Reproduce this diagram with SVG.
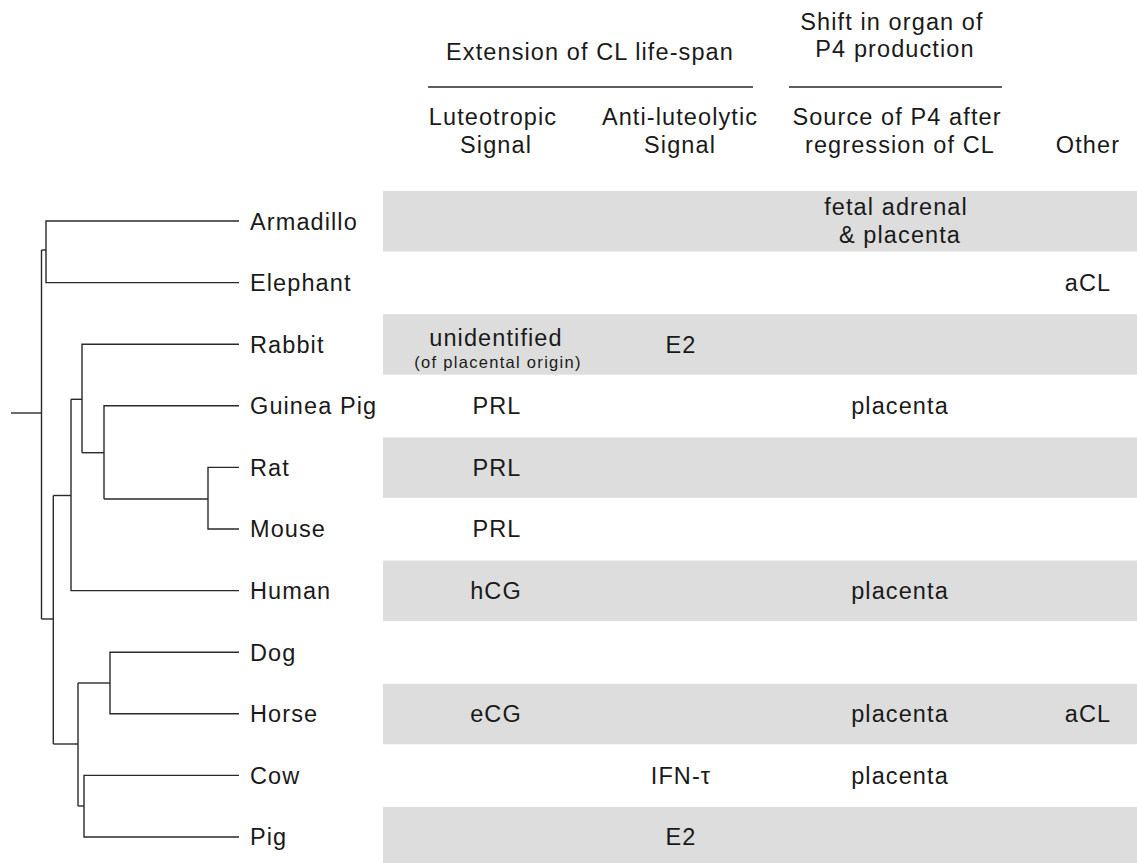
<svg xmlns="http://www.w3.org/2000/svg" width="1137" height="863" viewBox="0 0 1137 863">
  <style>
    text { font-family: "Liberation Sans", Arial, Helvetica, sans-serif; font-size: 23.5px; fill: #1a1a1a; letter-spacing: 1.1px; }
    .c { text-anchor: middle; }
    .small { font-size: 16.5px; letter-spacing: 1.3px; }
    .band { fill: #dddddd; }
    .tree path { fill: none; stroke: #2a2a2a; stroke-width: 1.4; }
    .rule { stroke: #2a2a2a; stroke-width: 1.6; }
  </style>
  <rect x="0" y="0" width="1137" height="863" fill="#ffffff"/>

  <g id="header">
    <text class="c" x="590" y="60">Extension of CL life-span</text>
    <line class="rule" x1="428" y1="87" x2="753" y2="87"/>
    <text class="c" x="892" y="30">Shift in organ of</text>
    <text class="c" x="895" y="57">P4 production</text>
    <line class="rule" x1="789" y1="87" x2="1002" y2="87"/>
    <text class="c" x="493" y="125">Luteotropic</text>
    <text class="c" x="496" y="153">Signal</text>
    <text class="c" x="680" y="125">Anti-luteolytic</text>
    <text class="c" x="680" y="153">Signal</text>
    <text class="c" x="897" y="125">Source of P4 after</text>
    <text class="c" x="900" y="153">regression of CL</text>
    <text class="c" x="1088" y="153">Other</text>
  </g>

  <g id="row-armadillo">
    <rect class="band" x="383" y="191" width="754" height="60.5"/>
    <text x="250" y="229.5">Armadillo</text>
    <text class="c" x="896" y="215">fetal adrenal</text>
    <text class="c" x="900" y="243">&amp; placenta</text>
  </g>
  <g id="row-elephant">
    <text x="250" y="291">Elephant</text>
    <text class="c" x="1088" y="291">aCL</text>
  </g>
  <g id="row-rabbit">
    <rect class="band" x="383" y="314.2" width="754" height="60.5"/>
    <text x="250" y="352.6">Rabbit</text>
    <text class="c" x="496" y="346">unidentified</text>
    <text class="c small" x="498" y="367.5">(of placental origin)</text>
    <text class="c" x="681" y="352.6">E2</text>
  </g>
  <g id="row-guinea-pig">
    <text x="250" y="414.2">Guinea Pig</text>
    <text class="c" x="497" y="414.2">PRL</text>
    <text class="c" x="900" y="414.2">placenta</text>
  </g>
  <g id="row-rat">
    <rect class="band" x="383" y="437.4" width="754" height="60.5"/>
    <text x="250" y="475.8">Rat</text>
    <text class="c" x="497" y="475.8">PRL</text>
  </g>
  <g id="row-mouse">
    <text x="250" y="537.4">Mouse</text>
    <text class="c" x="497" y="537.4">PRL</text>
  </g>
  <g id="row-human">
    <rect class="band" x="383" y="560.6" width="754" height="60.5"/>
    <text x="250" y="599">Human</text>
    <text class="c" x="496" y="599">hCG</text>
    <text class="c" x="900" y="599">placenta</text>
  </g>
  <g id="row-dog">
    <text x="250" y="660.6">Dog</text>
  </g>
  <g id="row-horse">
    <rect class="band" x="383" y="683.8" width="754" height="60.5"/>
    <text x="250" y="722.2">Horse</text>
    <text class="c" x="496" y="722.2">eCG</text>
    <text class="c" x="900" y="722.2">placenta</text>
    <text class="c" x="1088" y="722.2">aCL</text>
  </g>
  <g id="row-cow">
    <text x="250" y="783.8">Cow</text>
    <text class="c" x="681" y="783.8">IFN-τ</text>
    <text class="c" x="900" y="783.8">placenta</text>
  </g>
  <g id="row-pig">
    <rect class="band" x="383" y="807" width="754" height="60.5"/>
    <text x="250" y="845.4">Pig</text>
    <text class="c" x="681" y="845.4">E2</text>
  </g>

  <g id="connectors" class="tree">
    <path d="M11,413 H41.5"/>
    <path d="M41.5,250 V619"/>
    <path d="M41.5,250 H46"/>
    <path d="M239,221 H46 V282.6 H239"/>
    <path d="M41.5,619 H53.3"/>
    <path d="M53.3,495.5 V744"/>
    <path d="M53.3,495.5 H71"/>
    <path d="M71,399.3 V590.6 H239"/>
    <path d="M71,399.3 H82"/>
    <path d="M239,344.2 H82 V452.7"/>
    <path d="M82,452.7 H104"/>
    <path d="M239,405.8 H104 V499"/>
    <path d="M104,499 H208"/>
    <path d="M239,467.4 H208 V529 H239"/>
    <path d="M53.3,744 H78"/>
    <path d="M78,683 V806"/>
    <path d="M78,683 H110"/>
    <path d="M239,652.2 H110 V713.8 H239"/>
    <path d="M78,806 H84"/>
    <path d="M239,775.4 H84 V837 H239"/>
  </g>
</svg>
